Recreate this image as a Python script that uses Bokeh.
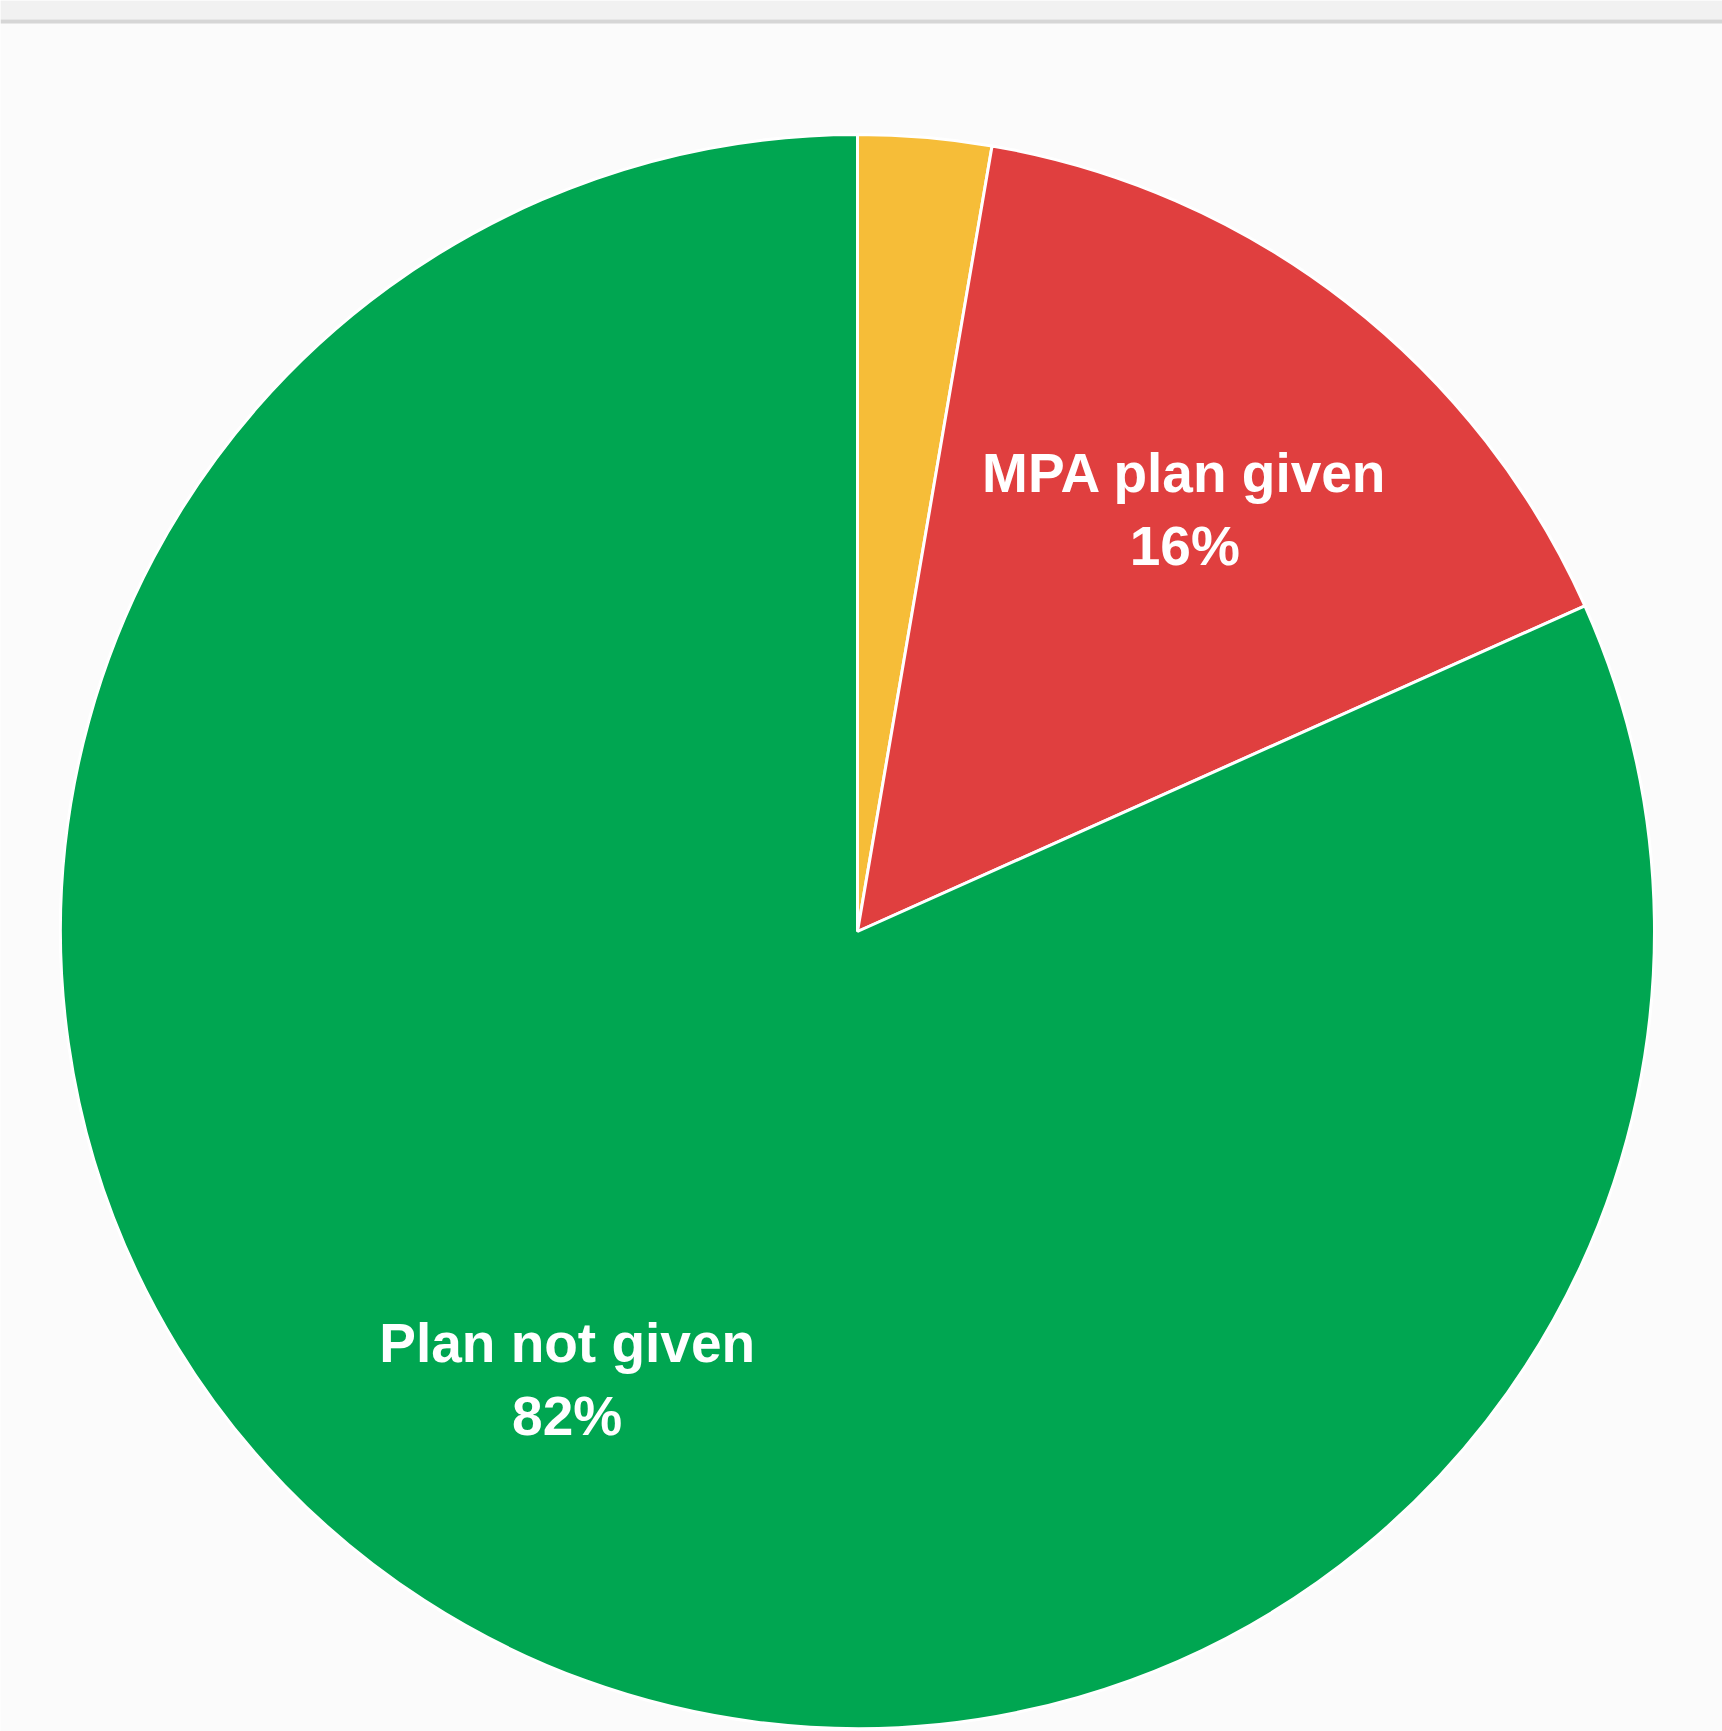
import math
from bokeh.plotting import figure
from bokeh.models import ColumnDataSource, Range1d, BoxAnnotation, Span
from bokeh.core.properties import value
from bokeh.embed import file_html
from bokeh.resources import INLINE

# ---- data ----
categories = ["Other", "MPA plan given", "Plan not given"]
shares = [2.7, 15.6, 81.7]          # percent
colors = ["#F6BD38", "#E03F3F", "#00A651"]
show_label = [False, True, True]

# ---- geometry ----
W, H = 1722, 1731
cx_px, cy_px = 857, 931   # pie centre in figure pixels
R_px = 797.0

total = sum(shares)
starts, ends, lx, ly, texts = [], [], [], [], []
cum = 0.0
for c, s, show in zip(categories, shares, show_label):
    a0 = math.pi / 2 - 2 * math.pi * cum / total
    cum += s
    a1 = math.pi / 2 - 2 * math.pi * cum / total
    starts.append(a0)
    ends.append(a1)
    mid = (a0 + a1) / 2
    lx.append(0.67 * math.cos(mid))
    ly.append(0.67 * math.sin(mid))
    texts.append(f"{c}\n{round(100 * s / total)}%" if show else "")

src = ColumnDataSource(dict(cat=categories, start=starts, end=ends, color=colors))
lab = ColumnDataSource(dict(x=lx, y=ly, text=texts))

y_top = cy_px / R_px
p = figure(width=W, height=H, output_backend="svg", toolbar_location=None,
           x_range=Range1d(-cx_px / R_px, (W - cx_px) / R_px),
           y_range=Range1d(-(H - cy_px) / R_px, y_top),
           min_border=0, border_fill_color="#fbfbfb", background_fill_color="#fbfbfb")
p.axis.visible = False
p.grid.visible = False
p.outline_line_color = None

# top header band
p.add_layout(BoxAnnotation(bottom=y_top - 19 / R_px, fill_color="#f1f1f1", fill_alpha=1,
                           line_color=None))
p.add_layout(Span(location=y_top - 21 / R_px, dimension="width", line_color="#d6d6d6",
                  line_width=4))

p.wedge(x=0, y=0, radius=1, start_angle="start", end_angle="end", direction="clock",
        fill_color="color", line_color="white", line_width=3, source=src)

p.text(x="x", y="y", text="text", source=lab, text_color="white",
       text_font=value("Liberation Sans"), text_font_size="55px", text_font_style="bold",
       text_align="center", text_baseline="middle", text_line_height=1.17)

open("out.html", "w").write(file_html(p, INLINE))
